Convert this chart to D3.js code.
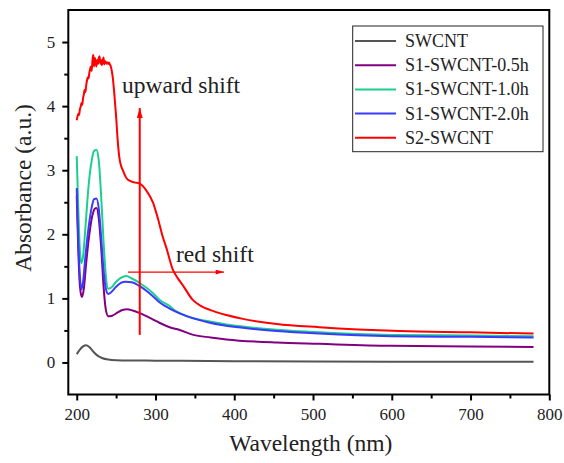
<!DOCTYPE html>
<html><head><meta charset="utf-8">
<script src="https://cdn.jsdelivr.net/npm/d3@7/dist/d3.min.js"></script>
<style>
body{margin:0;background:#fff;}
svg{display:block;font-family:"Liberation Serif","Times New Roman",serif;}
</style></head>
<body><svg id="c" width="564" height="463"></svg>
<script>
// ---- data ----
const seriesNames = ["SWCNT","S1-SWCNT-0.5h","S1-SWCNT-1.0h","S1-SWCNT-2.0h","S2-SWCNT"];
const seriesColors = ["#555555","#800080","#1ccf8f","#3a3aff","#ff0000"];

const wlSWCNT = [200,204,208,212,216,221,226,232,240,250,275,300,400,500,600,700,780];
const absSWCNT = [0.13,0.20,0.25,0.27,0.24,0.17,0.11,0.07,0.045,0.035,0.03,0.028,0.02,0.015,0.012,0.01,0.01];

const wlS05 = [200,202,204,206.5,209,212,216,220,223,225,228,231,234,237,240,245,252,258,264,271,280,297,305,318,330,348,370,390,454,508,600,700,780];
const absS05 = [2.60,1.75,1.20,1.02,1.15,1.55,2.00,2.30,2.40,2.41,2.25,1.80,1.20,0.82,0.72,0.73,0.78,0.82,0.83,0.81,0.77,0.67,0.62,0.55,0.51,0.43,0.39,0.36,0.31,0.29,0.26,0.25,0.24];

const wlS10 = [200,202,204,206,208,211,215,219,222,225,228,231,234,237,240,244,250,256,263,270,280,297,305,318,326,340,369,411,454,508,600,700,780];
const absS10 = [3.22,2.40,1.75,1.55,1.65,2.10,2.75,3.15,3.30,3.32,3.15,2.60,1.90,1.35,1.15,1.17,1.26,1.32,1.35,1.31,1.24,1.08,0.98,0.88,0.80,0.72,0.64,0.56,0.51,0.47,0.43,0.42,0.41];

const wlS20 = [200,202,204,206,208,211,215,219,222,225,228,231,234,237,240,244,250,256,262,270,280,297,305,318,330,369,411,454,508,600,700,780];
const absS20 = [2.72,1.90,1.35,1.14,1.25,1.65,2.10,2.42,2.55,2.56,2.40,1.95,1.45,1.15,1.07,1.10,1.18,1.24,1.26,1.25,1.19,1.03,0.94,0.84,0.77,0.62,0.54,0.49,0.45,0.41,0.40,0.39];

const wlS2 = [200,201,202,203,204,205,206,207,208,209,210,211,212,213,214,215,216,217,218,219,220,221,222,223,224,225,226,227,228,229,230,231,232,233,234,235,236,237,238,239,240,241,242,243,244.5,246,248,250,252,254,256,258.5,262,265,273,280,288,297,303,309,314,322,328,335,347,358,369,390,411,454,508,610,700,780];
const absS2 = [3.78,3.84,3.88,3.86,3.95,3.99,4.05,4.02,4.12,4.18,4.25,4.22,4.32,4.40,4.45,4.43,4.52,4.58,4.62,4.55,4.72,4.80,4.62,4.75,4.68,4.62,4.72,4.66,4.75,4.78,4.66,4.72,4.64,4.70,4.76,4.65,4.70,4.69,4.66,4.68,4.66,4.68,4.65,4.63,4.55,4.42,4.15,3.84,3.47,3.21,3.08,3.00,2.90,2.85,2.81,2.79,2.69,2.49,2.25,1.97,1.78,1.45,1.32,1.20,0.98,0.88,0.82,0.74,0.68,0.60,0.55,0.49,0.47,0.45];

const xTicks = [200,300,400,500,600,700,800];
const xMinor = [250,350,450,550,650,750];
const yTicks = [0,1,2,3,4,5];
const yMinor = [0.5,1.5,2.5,3.5,4.5];
const xTitle = "Wavelength (nm)";
const yTitle = "Absorbance (a.u.)";
const annUp = {text:"upward shift", x:280, y0:0.43, y1:3.97};
const annRed = {text:"red shift", y:1.41, x0:265, x1:387};

const seriesX = [wlSWCNT, wlS05, wlS10, wlS20, wlS2];
const seriesY = [absSWCNT, absS05, absS10, absS20, absS2];

// ---- layout ----
const L = 68.3, R = 549.3, T = 10, B = 394.5;
const svg = d3.select("#c");
const x = d3.scaleLinear().domain([189.3, 800]).range([L, R]);
const y = d3.scaleLinear().domain([-0.5, 5.5]).range([B, T]);

// curves (draw in order, red last)
const line = d3.line().x(d => x(d[0])).y(d => y(d[1])).curve(d3.curveMonotoneX);
seriesNames.forEach((n, i) => {
  const pts = seriesX[i].map((v, j) => [v, seriesY[i][j]]);
  svg.append("path").datum(pts).attr("d", line)
    .attr("fill", "none").attr("stroke", seriesColors[i]).attr("stroke-width", 2)
    .attr("stroke-linejoin", "round");
});

// frame
svg.append("rect").attr("x", L).attr("y", T).attr("width", R - L).attr("height", B - T)
  .attr("fill", "none").attr("stroke", "#000").attr("stroke-width", 2);

// axes
const ax = svg.append("g").attr("transform", `translate(0,${B})`)
  .call(d3.axisBottom(x).tickValues(xTicks).tickSize(6).tickPadding(7).tickFormat(d3.format("d")));
const axm = svg.append("g").attr("transform", `translate(0,${B})`)
  .call(d3.axisBottom(x).tickValues(xMinor).tickSize(4).tickFormat(""));
const ay = svg.append("g").attr("transform", `translate(${L},0)`)
  .call(d3.axisLeft(y).tickValues(yTicks).tickSize(6).tickPadding(7).tickFormat(d3.format("d")));
const aym = svg.append("g").attr("transform", `translate(${L},0)`)
  .call(d3.axisLeft(y).tickValues(yMinor).tickSize(4).tickFormat(""));
[ax, axm, ay, aym].forEach(g => {
  g.select(".domain").remove();
  g.selectAll("line").attr("stroke", "#000").attr("stroke-width", 2);
  g.selectAll("text").attr("font-family", "Liberation Serif").attr("font-size", 17).attr("fill", "#222");
});

// axis titles
svg.append("text").attr("x", (L + R) / 2 + 2).attr("y", 451).attr("text-anchor", "middle")
  .attr("font-size", 23.5).attr("fill", "#222").text(xTitle);
svg.append("text").attr("transform", `translate(31,${188}) rotate(-90)`).attr("text-anchor", "middle")
  .attr("font-size", 23.5).attr("fill", "#222").text(yTitle);

// annotations
const defs = svg.append("defs");
defs.append("marker").attr("id", "ah1").attr("viewBox", "0 0 10 6").attr("refX", 10).attr("refY", 3)
  .attr("markerWidth", 10).attr("markerHeight", 6).attr("markerUnits", "userSpaceOnUse").attr("orient", "auto")
  .append("path").attr("d", "M0,0 L10,3 L0,6 Z").attr("fill", "#ff0000");
defs.append("marker").attr("id", "ah2").attr("viewBox", "0 0 10 6").attr("refX", 10).attr("refY", 3)
  .attr("markerWidth", 10).attr("markerHeight", 5).attr("markerUnits", "userSpaceOnUse").attr("orient", "auto")
  .append("path").attr("d", "M0,0 L10,3 L0,6 Z").attr("fill", "#ff0000");

svg.append("line").attr("x1", x(annUp.x)).attr("x2", x(annUp.x)).attr("y1", y(annUp.y0)).attr("y2", y(annUp.y1))
  .attr("stroke", "#ff0000").attr("stroke-width", 2).attr("marker-end", "url(#ah1)");
svg.append("line").attr("x1", x(annRed.x0)).attr("x2", x(annRed.x1)).attr("y1", y(annRed.y)).attr("y2", y(annRed.y))
  .attr("stroke", "#ff0000").attr("stroke-width", 1.3).attr("marker-end", "url(#ah2)");
svg.append("text").attr("x", 122).attr("y", 93).attr("font-size", 23.5).attr("fill", "#222").text(annUp.text);
svg.append("text").attr("x", 176).attr("y", 262).attr("font-size", 23.5).attr("fill", "#222").text(annRed.text);

// legend
const lg = svg.append("g");
lg.append("rect").attr("x", 352.7).attr("y", 26).attr("width", 190.3).attr("height", 125.7)
  .attr("fill", "#fff").attr("stroke", "#222").attr("stroke-width", 1);
seriesNames.forEach((n, i) => {
  const cy = 41 + i * 24.2;
  lg.append("line").attr("x1", 355).attr("x2", 396).attr("y1", cy).attr("y2", cy)
    .attr("stroke", seriesColors[i]).attr("stroke-width", 2);
  lg.append("text").attr("x", 405).attr("y", cy + 6).attr("font-size", 18).attr("fill", "#222").text(n);
});
</script></body></html>
